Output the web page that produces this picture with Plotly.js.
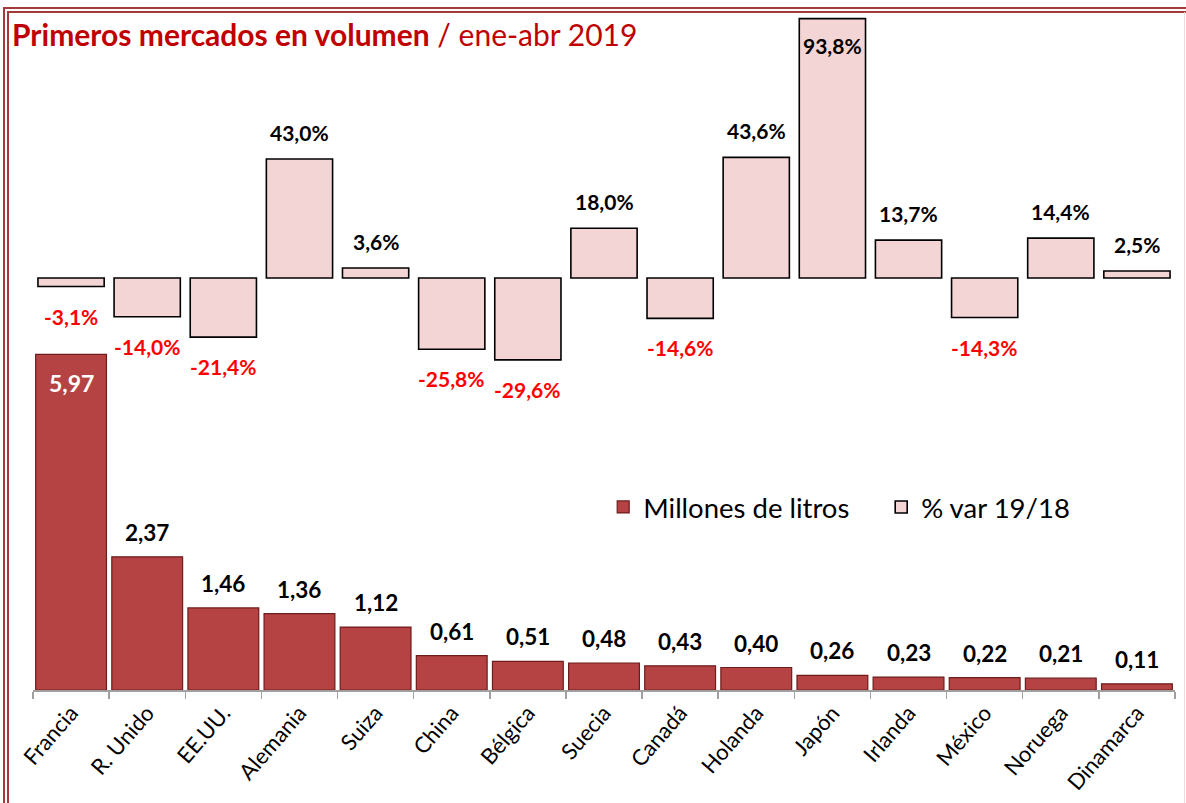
<!DOCTYPE html>
<html>
<head>
<meta charset="utf-8">
<script src="https://cdn.plot.ly/plotly-3.0.1.min.js"></script>
<style>
  html, body { margin: 0; padding: 0; background: #fff; }
  #wrap { position: relative; width: 1186px; height: 803px; overflow: hidden; }
  #chart { width: 1186px; height: 803px; }
  .bd { position: absolute; pointer-events: none; }
</style>
</head>
<body>
<div id="wrap">
  <div id="chart"></div>
  <div class="bd" style="left:3px;top:7px;width:1183px;height:2px;background:#a33b3b;"></div>
  <div class="bd" style="left:7px;top:11px;width:1179px;height:1.5px;background:#a33b3b;"></div>
  <div class="bd" style="left:3px;top:7px;width:2px;height:796px;background:#a33b3b;"></div>
  <div class="bd" style="left:7px;top:11px;width:1.5px;height:792px;background:#a33b3b;"></div>
  <div class="bd" style="left:1184px;top:12px;width:1px;height:791px;background:#f0dada;"></div>
</div>
<script>
const categories = ["Francia","R. Unido","EE.UU.","Alemania","Suiza","China","Bélgica","Suecia","Canadá","Holanda","Japón","Irlanda","México","Noruega","Dinamarca"];
const volumen = [5.97, 2.37, 1.46, 1.36, 1.12, 0.61, 0.51, 0.48, 0.43, 0.40, 0.26, 0.23, 0.22, 0.21, 0.11];
const variacion = [-3.1, -14.0, -21.4, 43.0, 3.6, -25.8, -29.6, 18.0, -14.6, 43.6, 93.8, 13.7, -14.3, 14.4, 2.5];
const seriesNames = ["Millones de litros", "% var 19/18"];

const FONT = "Lato, 'Open Sans', sans-serif";
const fmt = (v, d) => v.toFixed(d).replace('.', ',');
const VAR_MAX = 95.1;

const traceVol = {
  type: 'bar', name: seriesNames[0], x: categories, y: volumen,
  xaxis: 'x', yaxis: 'y', width: 0.93,
  marker: { color: '#b64343', line: { color: '#6e1c1c', width: 1.2 } },
  hoverinfo: 'x+y'
};
const traceVar = {
  type: 'bar', name: seriesNames[1], x: categories, y: variacion,
  xaxis: 'x', yaxis: 'y2', width: 0.87,
  marker: { color: '#f4d5d5', line: { color: '#000000', width: 1.6 } },
  hoverinfo: 'x+y'
};

const annotations = [];
volumen.forEach((v, i) => {
  if (i === 0) {
    annotations.push({ x: categories[i], y: v, xref: 'x', yref: 'y', text: '<b>' + fmt(v, 2) + '</b>',
      showarrow: false, yanchor: 'middle', yshift: -29, font: { family: FONT, size: 23, color: '#ffffff' } });
  } else {
    annotations.push({ x: categories[i], y: v, xref: 'x', yref: 'y', text: '<b>' + fmt(v, 2) + '</b>',
      showarrow: false, yanchor: 'bottom', yshift: 9, font: { family: FONT, size: 22.5, color: '#000000' } });
  }
});
variacion.forEach((v, i) => {
  const pos = v >= 0;
  const inside = v > VAR_MAX - 15;
  annotations.push({ x: categories[i], y: v, xref: 'x', yref: 'y2', text: '<b>' + fmt(v, 1) + '%</b>',
    showarrow: false,
    yanchor: inside ? 'middle' : (pos ? 'bottom' : 'top'),
    yshift: inside ? -27 : (pos ? 12 : -15),
    font: { family: FONT, size: 21, color: pos ? '#000000' : '#ff0000' } });
});

const layout = {
  width: 1186, height: 803,
  margin: { l: 32.5, r: 11, t: 15, b: 113 },
  paper_bgcolor: '#ffffff', plot_bgcolor: 'rgba(0,0,0,0)',
  barmode: 'overlay',
  font: { family: FONT, color: '#000000' },
  title: {
    text: '<b>Primeros mercados en volumen</b> / ene-abr 2019',
    font: { family: FONT, size: 30, color: '#c00000' },
    x: 12 / 1186, xref: 'container', xanchor: 'left',
    y: 1 - 35 / 803, yref: 'container', yanchor: 'middle'
  },
  xaxis: {
    type: 'category', tickangle: -49, tickson: 'boundaries',
    ticks: 'outside', ticklen: 7, tickcolor: '#a0a0a0', tickwidth: 1.5,
    showline: true, linecolor: '#a0a0a0', linewidth: 1.5,
    showgrid: false, zeroline: false,
    tickfont: { family: FONT, size: 22, color: '#000000' },
    range: [-0.5, 14.5]
  },
  yaxis: {
    range: [0, 12.01], visible: false, showgrid: false, zeroline: false, fixedrange: true
  },
  yaxis2: {
    range: [-149.0, VAR_MAX], overlaying: 'y', side: 'right', visible: false,
    showgrid: false, zeroline: false
  },
  showlegend: true,
  legend: {
    orientation: 'h', x: 0.4993, xanchor: 'left', y: 0.271, yanchor: 'middle',
    font: { family: FONT, size: 27.5, color: '#000000' },
    bgcolor: 'rgba(0,0,0,0)', traceorder: 'normal',
    entrywidth: 233, entrywidthmode: 'pixels'
  },
  annotations: annotations
};

Plotly.newPlot('chart', [traceVol, traceVar], layout, { displayModeBar: false, staticPlot: true });
</script>
</body>
</html>
